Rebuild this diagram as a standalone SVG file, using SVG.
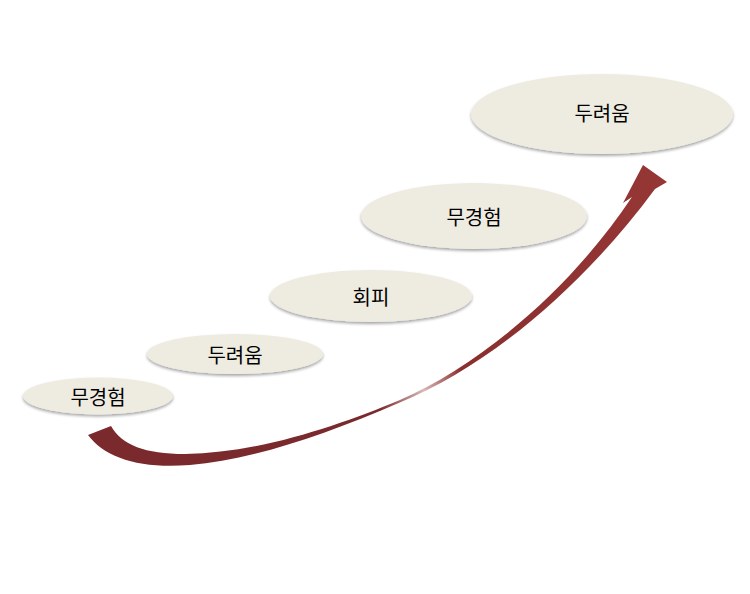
<svg xmlns="http://www.w3.org/2000/svg" width="750" height="594" viewBox="0 0 750 594">
<style>
.n{fill:#EEEBE1;filter:url(#sh)}
.t{font-family:"Noto Sans CJK KR","Liberation Sans",sans-serif;font-size:20px;fill:#000;text-anchor:middle;dominant-baseline:central}
</style>
<defs>
<filter id="sh" x="-10%" y="-20%" width="120%" height="150%">
<feGaussianBlur in="SourceAlpha" stdDeviation="1.5"/>
<feOffset dy="2" result="b"/>
<feComponentTransfer><feFuncA type="linear" slope="0.35"/></feComponentTransfer>
<feMerge><feMergeNode/><feMergeNode in="SourceGraphic"/></feMerge>
</filter>
<linearGradient id="ag" gradientUnits="userSpaceOnUse" x1="90" y1="0" x2="670" y2="0">
<stop offset="0" stop-color="#7A2A2C"/>
<stop offset="0.5" stop-color="#7A2A2C"/>
<stop offset="0.575" stop-color="#D9B8B8"/>
<stop offset="0.64" stop-color="#8A2E2E"/>
<stop offset="1" stop-color="#953735"/>
</linearGradient>
</defs>
<g id="connectors">
<path fill="url(#ag)" d="M111,426 C122,445 145,454 185,454 C260,453 340,425 400,400 C480,365 570,290 632,197 L623,203 L643,165 L667,182 L655,189 C578,293 484,368 401,402 C320,437 250,460 190,465 C140,469 105,458 88,435 Z"/>
</g>
<g id="n1"><ellipse class="n" cx="98" cy="396" rx="75" ry="18.5"/><text class="t" x="98" y="396">무경험</text></g>
<g id="n2"><ellipse class="n" cx="235" cy="354" rx="88" ry="20"/><text class="t" x="235" y="354">두려움</text></g>
<g id="n3"><ellipse class="n" cx="371" cy="296" rx="101" ry="26"/><text class="t" x="371" y="296">회피</text></g>
<g id="n4"><ellipse class="n" cx="474" cy="216" rx="113" ry="33"/><text class="t" x="474" y="216">무경험</text></g>
<g id="n5"><ellipse class="n" cx="602" cy="114" rx="131" ry="40"/><text class="t" x="602" y="112">두려움</text></g>
</svg>
